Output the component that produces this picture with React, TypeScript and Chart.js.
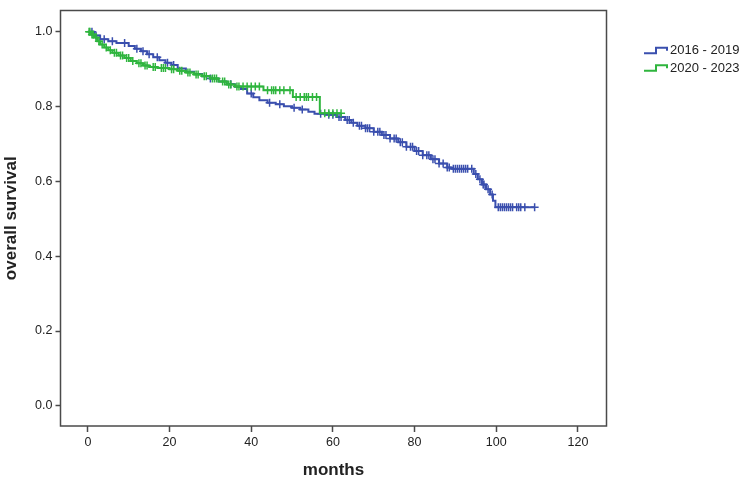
import React, { useEffect, useRef } from "react";
import { Chart, registerables } from "chart.js";

Chart.register(...registerables);

// ---- data ----
const seriesLabels = ["2016 - 2019", "2020 - 2023"];
const seriesColors = ["#3a4fae", "#2fb53e"];

const blueTimes = [0, 1.5, 3, 5, 7, 10, 11.5, 13, 14.5, 16, 17.5, 19, 20.5, 22, 24, 26, 28, 30, 32, 34, 36, 37.5, 39, 40.5, 42, 44, 46, 48, 50, 52, 54, 55.5, 58, 61, 63, 64.5, 66, 68, 70, 72, 74, 76, 78, 80, 82, 84, 86, 88, 89, 94.5, 95.5, 96.5, 97.5, 98.5, 99.2, 99.8, 109.4];
const blueSurv = [1.0, 0.99, 0.98, 0.975, 0.97, 0.962, 0.955, 0.948, 0.94, 0.932, 0.924, 0.917, 0.911, 0.902, 0.893, 0.887, 0.881, 0.875, 0.867, 0.86, 0.853, 0.847, 0.835, 0.825, 0.817, 0.81, 0.806, 0.801, 0.797, 0.792, 0.786, 0.781, 0.778, 0.772, 0.764, 0.757, 0.749, 0.742, 0.733, 0.724, 0.715, 0.705, 0.693, 0.681, 0.67, 0.659, 0.648, 0.637, 0.634, 0.62, 0.606, 0.592, 0.579, 0.565, 0.548, 0.531, 0.531];
const blueCensor = [1, 2, 4, 6, 9, 12, 13.5, 15, 17, 19.5, 21, 30, 35, 40, 44.5, 47, 50.5, 52.5, 57, 59, 60, 61.5, 62, 63.5, 64, 65, 66.5, 67, 68, 68.5, 69, 70, 71, 71.5, 72.5, 73, 74, 75, 75.5, 76.5, 77, 78, 79, 79.5, 80.5, 81, 82, 83, 83.5, 84.5, 85, 86, 87, 88, 88.5, 89.5, 90, 90.5, 91, 91.5, 92, 92.5, 93, 94, 95, 96, 96.8, 97, 98, 99, 100.5, 101, 101.5, 102, 102.5, 103, 103.5, 104, 105, 105.5, 106, 107, 109.4];

const greenTimes = [0, 0.8, 1.5, 2.3, 3, 4, 5, 6, 7.5, 9, 10.5, 12, 13.5, 15, 17, 20, 22, 24, 26, 28, 30, 32, 34, 36, 43, 50.2, 56.8, 62];
const greenSurv = [1.0, 0.993, 0.985, 0.975, 0.966, 0.958, 0.951, 0.944, 0.937, 0.93, 0.922, 0.916, 0.91, 0.906, 0.903, 0.9, 0.896, 0.891, 0.886, 0.881, 0.875, 0.867, 0.859, 0.854, 0.844, 0.826, 0.782, 0.782];
const greenCensor = [0.3, 0.5, 1, 1.3, 2, 2.7, 3.5, 4.5, 5.5, 6.5, 7, 8, 8.5, 9.5, 10, 11, 12.5, 13, 14, 14.5, 16, 16.5, 18, 18.5, 19, 20.5, 21, 22.5, 23, 24.5, 25, 26.5, 27, 28.5, 29, 30.5, 31, 31.5, 33, 33.5, 34.5, 35, 36.5, 37, 38, 39, 40, 41, 42, 44, 45, 45.5, 46, 47, 48, 49.5, 51, 52, 53, 53.5, 54, 55, 56, 58, 59, 60, 61, 62];

const xTicks = [0, 20, 40, 60, 80, 100, 120];
const yTicks = [0.0, 0.2, 0.4, 0.6, 0.8, 1.0];

const xTitle = "months";
const yTitle = "overall survival";

function stepAt(times: number[], surv: number[], t: number): number {
  let v = surv[0];
  for (let i = 0; i < times.length; i++) {
    if (times[i] <= t) v = surv[i];
  }
  return v;
}

const FONT = "'Liberation Sans', Arial, sans-serif";
const AXIS_COLOR = "#4a4a4a";
const TEXT_COLOR = "#222222";

const framePlugin = {
  id: "frame",
  afterDatasetsDraw(chart: any) {
    const { ctx, chartArea } = chart;
    ctx.save();
    ctx.strokeStyle = AXIS_COLOR;
    ctx.lineWidth = 1.5;
    ctx.strokeRect(chartArea.left, chartArea.top, chartArea.right - chartArea.left, chartArea.bottom - chartArea.top);
    ctx.restore();
  },
};

const legendPlugin = {
  id: "stepLegend",
  afterDraw(chart: any) {
    const { ctx } = chart;
    ctx.save();
    const rows = [50.7, 68.3];
    seriesLabels.forEach((label, i) => {
      const yc = rows[i];
      ctx.strokeStyle = seriesColors[i];
      ctx.lineWidth = 2;
      ctx.beginPath();
      ctx.moveTo(644, yc + 2.5);
      ctx.lineTo(656, yc + 2.5);
      ctx.lineTo(656, yc - 3);
      ctx.lineTo(667, yc - 3);
      ctx.lineTo(667, yc);
      ctx.stroke();
      ctx.fillStyle = TEXT_COLOR;
      ctx.font = `13px ${FONT}`;
      ctx.textBaseline = "middle";
      ctx.textAlign = "left";
      ctx.fillText(label, 670, yc);
    });
    ctx.restore();
  },
};

export default function App() {
  const ref = useRef<HTMLCanvasElement | null>(null);

  useEffect(() => {
    if (!ref.current) return;
    const blueLine = blueTimes.map((t, i) => ({ x: t, y: blueSurv[i] }));
    const greenLine = greenTimes.map((t, i) => ({ x: t, y: greenSurv[i] }));
    const blueMarks = blueCensor.map((t) => ({ x: t, y: stepAt(blueTimes, blueSurv, t) }));
    const greenMarks = greenCensor.map((t) => ({ x: t, y: stepAt(greenTimes, greenSurv, t) }));

    const chart = new Chart(ref.current, {
      type: "line",
      data: {
        datasets: [
          {
            label: seriesLabels[0],
            data: blueLine,
            borderColor: seriesColors[0],
            borderWidth: 2,
            stepped: true,
            pointRadius: 0,
            fill: false,
            order: 3,
          },
          {
            label: seriesLabels[0] + " censored",
            type: "scatter",
            data: blueMarks,
            borderColor: seriesColors[0],
            backgroundColor: seriesColors[0],
            pointStyle: "cross",
            pointRadius: 4,
            borderWidth: 1.5,
            showLine: false,
            order: 2,
          },
          {
            label: seriesLabels[1],
            data: greenLine,
            borderColor: seriesColors[1],
            borderWidth: 2,
            stepped: true,
            pointRadius: 0,
            fill: false,
            order: 1,
          },
          {
            label: seriesLabels[1] + " censored",
            type: "scatter",
            data: greenMarks,
            borderColor: seriesColors[1],
            backgroundColor: seriesColors[1],
            pointStyle: "cross",
            pointRadius: 4,
            borderWidth: 1.5,
            showLine: false,
            order: 0,
          },
        ] as any,
      },
      options: {
        animation: false,
        responsive: false,
        maintainAspectRatio: false,
        layout: { padding: { left: 0, right: 143.5, top: 7.5, bottom: 0 } },
        plugins: {
          legend: { display: false },
          tooltip: { enabled: false },
        },
        scales: {
          x: {
            type: "linear",
            min: -6.7,
            max: 127,
            afterFit: (s: any) => {
              s.height = 62;
            },
            afterBuildTicks: (s: any) => {
              s.ticks = xTicks.map((v) => ({ value: v }));
            },
            border: { display: false },
            grid: {
              display: true,
              drawOnChartArea: false,
              drawTicks: true,
              tickLength: 6,
              tickColor: AXIS_COLOR,
              tickWidth: 1.5,
            },
            ticks: {
              color: TEXT_COLOR,
              font: { family: FONT, size: 12.5 },
              padding: 3,
              maxRotation: 0,
              autoSkip: false,
              callback: (v: any) => String(v),
            },
            title: {
              display: true,
              text: xTitle,
              color: TEXT_COLOR,
              font: { family: FONT, size: 17, weight: "bold" },
              padding: { top: 0, bottom: 7 },
            },
          },
          y: {
            type: "linear",
            min: -0.054,
            max: 1.057,
            afterFit: (s: any) => {
              s.width = 60.5;
            },
            afterBuildTicks: (s: any) => {
              s.ticks = yTicks.map((v) => ({ value: v }));
            },
            border: { display: false },
            grid: {
              display: true,
              drawOnChartArea: false,
              drawTicks: true,
              tickLength: 5,
              tickColor: AXIS_COLOR,
              tickWidth: 1.5,
            },
            ticks: {
              color: TEXT_COLOR,
              font: { family: FONT, size: 12.5 },
              padding: 3,
              autoSkip: false,
              callback: (v: any) => Number(v).toFixed(1),
            },
            title: {
              display: true,
              text: yTitle,
              color: TEXT_COLOR,
              font: { family: FONT, size: 17, weight: "bold" },
              padding: { top: 1, bottom: 0 },
            },
          },
        },
      },
      plugins: [framePlugin, legendPlugin],
    });
    return () => chart.destroy();
  }, []);

  return (
    <div style={{ position: "absolute", left: 0, top: 0, width: 750, height: 488, background: "#ffffff" }}>
      <canvas ref={ref} width={750} height={488} style={{ display: "block" }} />
    </div>
  );
}
